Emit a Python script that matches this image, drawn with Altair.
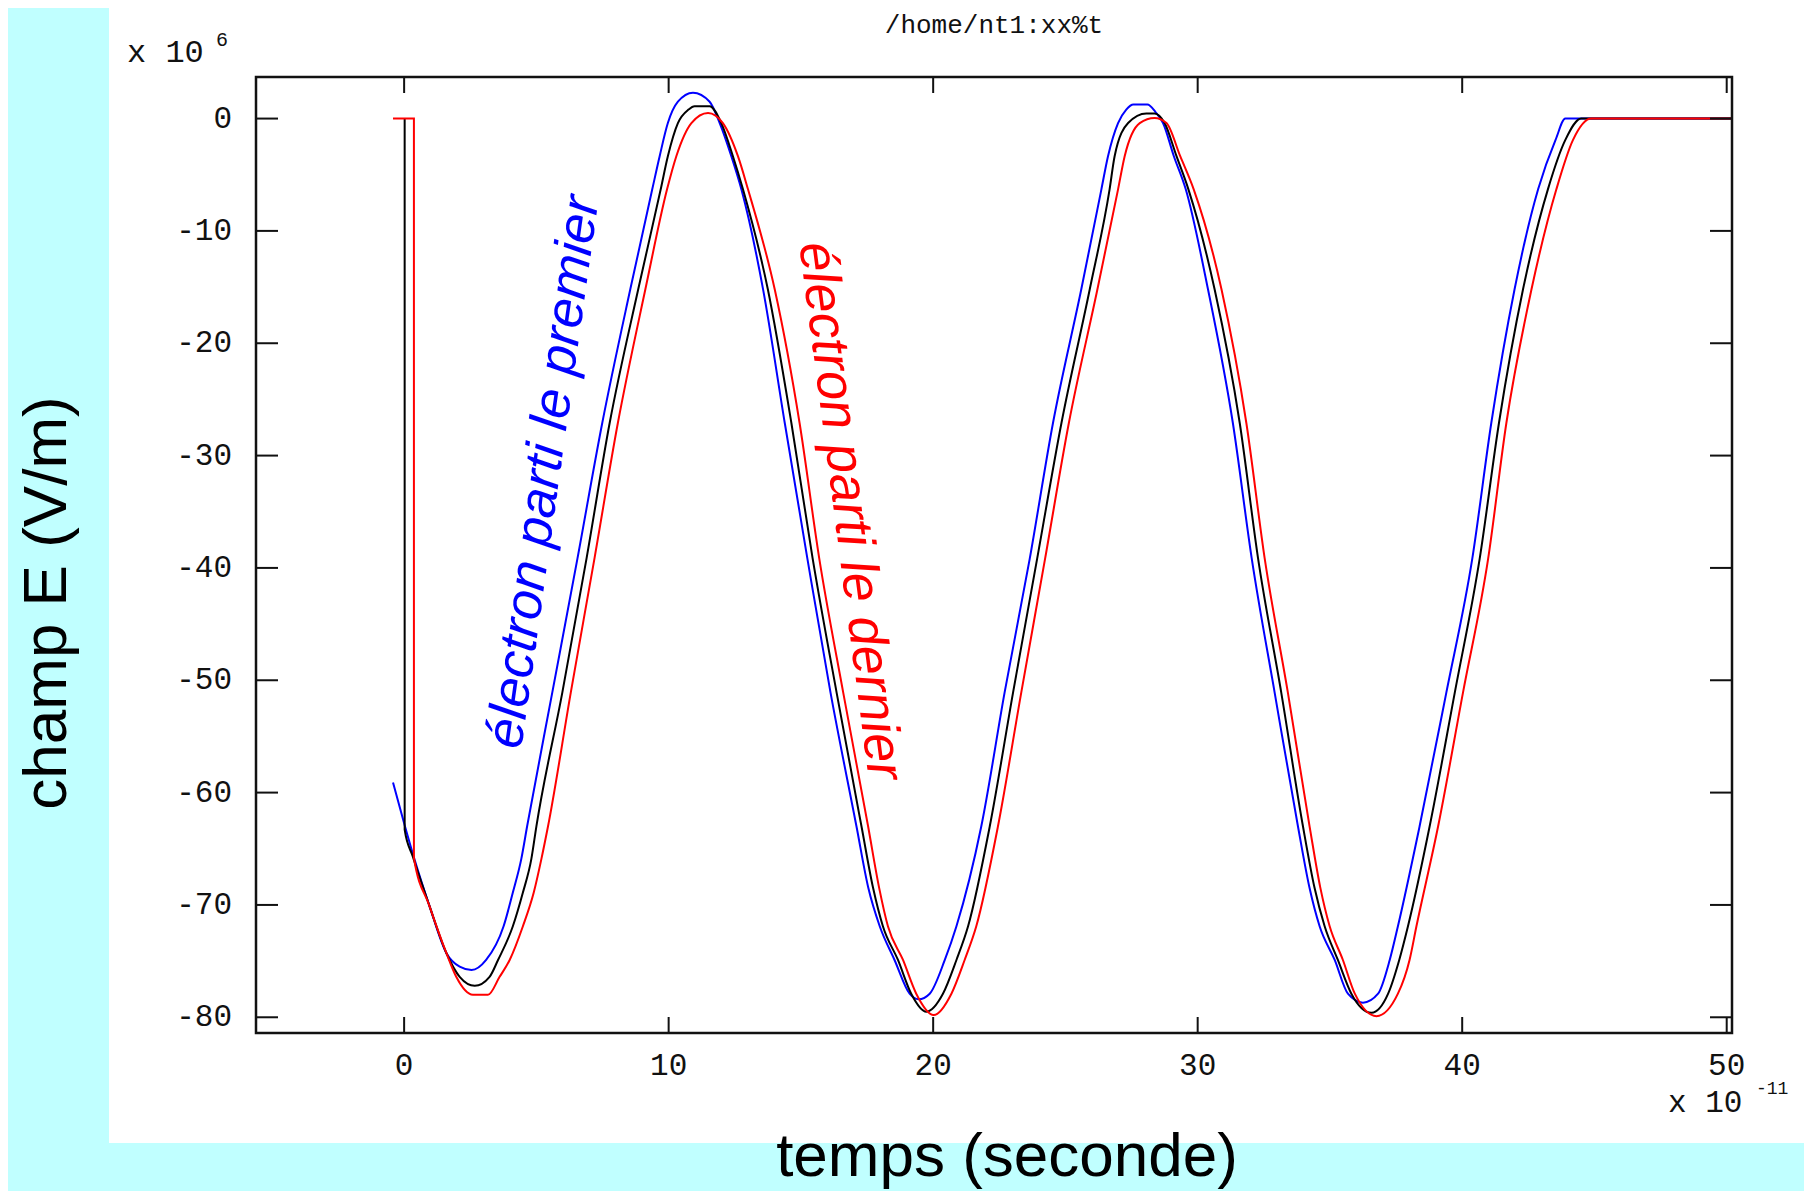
import altair as alt
import pandas as pd

# ---- data (t in 1e-11 s, E in 1e6 V/m) ----
blue_t = [-0.42, 0.02, 0.4, 0.96, 1.6, 2.1, 2.55, 3.1, 3.76, 4.11, 4.43, 4.65, 5.6, 6.55, 7.49, 8.55, 9.38, 9.66, 9.97, 10.35, 10.92, 11.55, 11.93, 12.37, 12.75, 13.57, 14.39, 15.24, 16.12, 17.1, 17.55, 17.98, 18.54, 19.11, 19.45, 19.87, 20.44, 20.88, 21.82, 22.7, 23.65, 24.53, 25.6, 26.36, 26.61, 26.99, 27.3, 27.57, 28.1, 28.4, 28.69, 29.1, 29.55, 30.39, 31.33, 32.04, 32.91, 33.79, 34.23, 34.61, 35.18, 35.68, 36.25, 36.82, 37.26, 37.57, 38.39, 39.4, 40.38, 41.1, 41.98, 42.87, 43.53, 43.9, 50.2]
blue_E = [-59.1, -62.9, -66.0, -70.1, -74.3, -75.5, -75.8, -74.9, -71.9, -68.9, -65.9, -63.0, -51.1, -39.2, -27.1, -15.2, -6.3, -3.35, -0.4, 1.5, 2.3, 1.5, -0.4, -3.35, -6.3, -15.2, -27.1, -39.1, -51.1, -63.0, -68.5, -71.9, -74.9, -77.9, -78.4, -77.9, -74.9, -71.9, -63.0, -51.1, -39.2, -27.1, -15.2, -6.3, -3.35, -0.4, 0.8, 1.25, 1.25, 0.6, -0.4, -3.35, -6.3, -15.2, -27.1, -39.1, -51.1, -63.0, -68.5, -71.9, -74.9, -77.9, -78.7, -77.9, -74.9, -71.9, -63.0, -51.1, -39.2, -27.1, -15.2, -6.3, -1.9, 0.0, 0.0]

black_t = [0.02, 0.02, 0.33, 0.96, 1.6, 2.1, 2.67, 3.23, 3.55, 4.11, 4.49, 4.81, 5.0, 5.98, 6.9, 7.77, 8.85, 9.7, 9.97, 10.35, 10.75, 10.98, 11.55, 11.99, 12.43, 12.81, 13.75, 14.64, 15.44, 16.35, 17.29, 17.73, 18.1, 18.67, 19.17, 19.74, 20.37, 20.88, 21.32, 22.14, 23.02, 23.93, 24.85, 25.92, 26.67, 26.86, 27.37, 28.06, 28.37, 28.75, 29.2, 29.65, 30.64, 31.59, 32.28, 33.16, 33.98, 34.42, 34.8, 35.3, 35.81, 36.57, 37.2, 37.62, 37.95, 38.77, 39.72, 40.66, 41.39, 42.3, 43.24, 43.9, 44.5, 50.2]
black_E = [0.0, -63.3, -65.7, -70.1, -74.3, -76.4, -77.2, -76.4, -74.9, -71.9, -68.9, -65.9, -63.0, -51.1, -39.1, -27.1, -15.2, -6.3, -3.35, -0.4, 0.8, 1.1, 1.1, -0.4, -3.35, -6.3, -15.2, -27.1, -39.1, -51.1, -63.0, -68.5, -71.9, -74.9, -77.9, -79.5, -77.9, -74.9, -71.9, -63.0, -51.1, -39.2, -27.1, -15.2, -6.3, -3.35, -0.4, 0.45, 0.45, -0.4, -3.35, -6.3, -15.2, -27.1, -39.1, -51.1, -63.0, -68.5, -71.9, -74.9, -77.9, -79.6, -77.9, -74.9, -71.9, -63.0, -51.1, -39.2, -27.1, -15.2, -6.3, -1.9, 0.0, 0.0]

red_t = [-0.42, 0.37, 0.37, 0.96, 1.6, 1.97, 2.6, 3.17, 3.61, 3.99, 4.49, 4.9, 5.19, 5.44, 6.3, 7.2, 8.08, 9.12, 9.94, 10.29, 10.86, 11.49, 12.05, 12.62, 13.0, 14.01, 14.95, 15.69, 16.6, 17.54, 17.96, 18.29, 18.86, 19.36, 20.02, 20.69, 21.19, 21.63, 22.45, 23.33, 24.23, 25.13, 26.21, 26.99, 27.24, 27.81, 28.37, 28.82, 29.34, 29.85, 30.9, 31.84, 32.53, 33.41, 34.23, 34.64, 34.99, 35.49, 35.94, 36.76, 37.57, 38.01, 38.27, 39.09, 40.03, 40.98, 41.67, 42.62, 43.56, 44.19, 44.88, 50.2]
red_E = [0.0, 0.0, -65.8, -70.1, -74.3, -76.4, -78.0, -78.0, -76.4, -74.9, -71.9, -68.9, -65.9, -63.0, -51.1, -39.1, -27.1, -15.2, -6.3, -3.35, -0.4, 0.5, -0.4, -3.35, -6.3, -15.2, -27.1, -39.1, -51.1, -63.0, -68.5, -71.9, -74.9, -77.9, -79.8, -77.9, -74.9, -71.9, -63.0, -51.1, -39.2, -27.1, -15.2, -6.3, -3.35, -0.4, 0.06, -0.4, -3.35, -6.3, -15.2, -27.1, -39.1, -51.1, -63.0, -68.5, -71.9, -74.9, -77.9, -79.9, -77.9, -74.9, -71.9, -63.0, -51.1, -39.2, -27.1, -15.2, -6.3, -1.9, 0.0, 0.0]

x_ticks = [0, 10, 20, 30, 40, 50]
x_tick_labels = ["0", "10", "20", "30", "40", "50"]
y_ticks = [0, -10, -20, -30, -40, -50, -60, -70, -80]
y_tick_labels = ["0", "-10", "-20", "-30", "-40", "-50", "-60", "-70", "-80"]

title_text = "/home/nt1:xx%t"
x_title = "temps (seconde)"
y_title = "champ E (V/m)"
note_first = "électron parti le premier"
note_last = "électron parti le dernier"

# ---- layout ----
W, H = 1476, 956
x_scale = alt.Scale(domain=[-5.6, 50.2], nice=False, zero=False)
y_scale = alt.Scale(domain=[-81.4, 3.7], nice=False, zero=False)
MONO = "Liberation Mono"
SANS = "Liberation Sans"
INK = "#111111"

one = pd.DataFrame({"k": [0]})

panel = alt.Chart(one).mark_rect(color="white", clip=False).encode(
    x=alt.value(-147), x2=alt.value(1560), y=alt.value(-80), y2=alt.value(1066)
)

frame = alt.Chart(one).mark_rect(fillOpacity=0, stroke=INK, strokeWidth=2.5).encode(
    x=alt.value(0), x2=alt.value(W), y=alt.value(0), y2=alt.value(H)
)

xt = pd.DataFrame({"v": x_ticks, "lab": x_tick_labels})
yt = pd.DataFrame({"v": y_ticks, "lab": y_tick_labels})
TK = dict(color=INK, strokeWidth=2)

xt_bottom = alt.Chart(xt).mark_rule(**TK).encode(
    x=alt.X("v:Q", scale=x_scale, axis=None), y=alt.value(H - 16), y2=alt.value(H))
xt_top = alt.Chart(xt).mark_rule(**TK).encode(
    x=alt.X("v:Q", scale=x_scale, axis=None), y=alt.value(0), y2=alt.value(16))
yt_left = alt.Chart(yt).mark_rule(**TK).encode(
    y=alt.Y("v:Q", scale=y_scale, axis=None), x=alt.value(0), x2=alt.value(22))
yt_right = alt.Chart(yt).mark_rule(**TK).encode(
    y=alt.Y("v:Q", scale=y_scale, axis=None), x=alt.value(W - 22), x2=alt.value(W))

x_labels = alt.Chart(xt).mark_text(font=MONO, fontSize=31, color=INK, align="center",
                                   baseline="alphabetic").encode(
    x=alt.X("v:Q", scale=x_scale, axis=None), y=alt.value(998), text="lab:N")
y_labels = alt.Chart(yt).mark_text(font=MONO, fontSize=31, color=INK, align="right",
                                   baseline="middle").encode(
    y=alt.Y("v:Q", scale=y_scale, axis=None), x=alt.value(-24), text="lab:N")


def curve(t, E, color):
    df = pd.DataFrame({"t": t, "E": E, "i": list(range(len(t)))})
    return alt.Chart(df).mark_line(color=color, strokeWidth=2, interpolate="monotone",
                                   clip=True).encode(
        x=alt.X("t:Q", scale=x_scale, axis=None),
        y=alt.Y("E:Q", scale=y_scale, axis=None),
        order="i:Q",
    )


def label(text, x, y, **kw):
    return alt.Chart(one).mark_text(text=text, **kw).encode(x=alt.value(x), y=alt.value(y))


texts = [
    label(title_text, 738, -52, font=MONO, fontSize=26, align="center", baseline="middle", color=INK),
    label("x 10", -129, -15, font=MONO, fontSize=32, align="left", baseline="alphabetic", color=INK),
    label("6", -40, -31, font=MONO, fontSize=20, align="left", baseline="alphabetic", color=INK),
    label("x 10", 1412, 1035, font=MONO, fontSize=31, align="left", baseline="alphabetic", color=INK),
    label("-11", 1500, 1017, font=MONO, fontSize=18, align="left", baseline="alphabetic", color=INK),
    label(y_title, -209, 526, font=SANS, fontSize=62, angle=270, align="center", baseline="middle", color="black"),
    label(x_title, 751, 1099, font=SANS, fontSize=62, align="center", baseline="alphabetic", color="black"),
    label(note_first, 288, 395, font=SANS, fontSize=53, fontStyle="italic",
          angle=278, align="center", baseline="middle", color="#0000FF"),
    label(note_last, 594, 434, font=SANS, fontSize=53, fontStyle="italic",
          angle=82.6, align="center", baseline="middle", color="#FF0000"),
]

chart = alt.layer(
    panel,
    curve(blue_t, blue_E, "#0000FF"),
    curve(black_t, black_E, "#000000"),
    curve(red_t, red_E, "#FF0000"),
    xt_bottom, xt_top, yt_left, yt_right,
    x_labels, y_labels,
    frame,
    *texts,
).properties(
    width=W, height=H,
    padding={"left": 248, "top": 69, "right": 72, "bottom": 158},
    autosize=alt.AutoSizeParams(type="none"),
    background="#C0FFFF",
).configure_view(strokeWidth=0)

chart.save("out.html", embed_options={"renderer": "svg", "actions": False})
